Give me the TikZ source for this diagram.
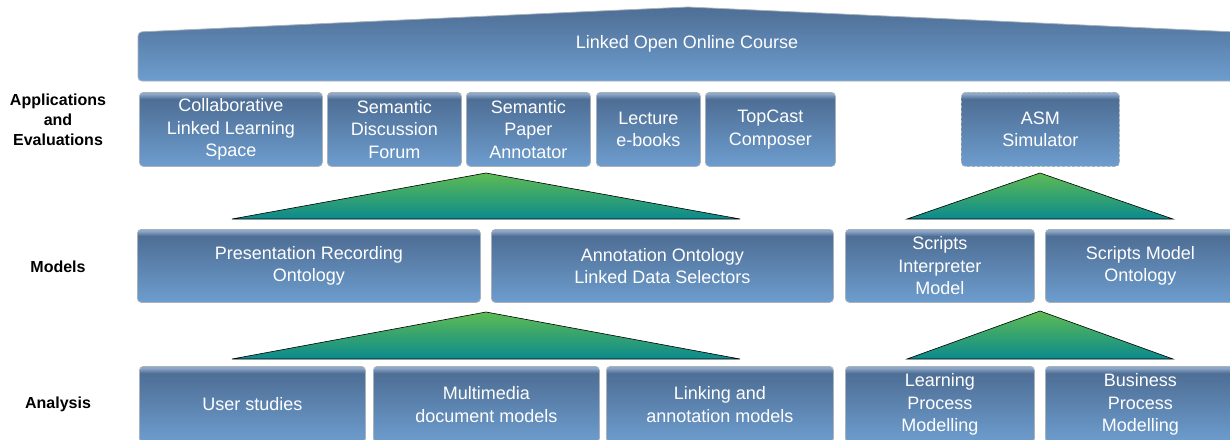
\documentclass[tikz,border=0pt]{standalone}
\usepackage{fontspec}
\setmainfont{Liberation Sans}
\definecolor{bxtop}{HTML}{4E6E95}
\definecolor{bxbot}{HTML}{6D9DCE}
\definecolor{bxhi}{HTML}{8EA8C8}
\definecolor{bxline}{HTML}{A9B1BA}
\definecolor{trtop}{HTML}{5EBB53}
\definecolor{trbot}{HTML}{0B8A8E}
% box fill: light at the bottom, dark near the top, thin light rim on top
\pgfdeclareverticalshading{boxshade}{100bp}{color(0bp)=(bxbot); color(25bp)=(bxbot); color(70.5bp)=(bxtop); color(74bp)=(bxhi); color(100bp)=(bxhi)}
\tikzset{
  box/.style={anchor=north west, rounded corners=4pt, draw=bxline, line width=0.8pt,
    shading=boxshade, text=white, align=center, inner sep=0pt,
    font=\fontsize{18}{22.5}\selectfont},
  dbox/.style={box, dash pattern=on 3pt off 2pt},
  tri/.style={draw=black, line width=0.6pt, top color=trtop, bottom color=trbot},
  lbl/.style={align=center, font=\bfseries\fontsize{16}{20}\selectfont}
}
\begin{document}
\begin{tikzpicture}[x=1pt,y=-1pt]
\useasboundingbox (0,0) rectangle (1230,439);
\clip (0,0) rectangle (1230,439);

% course banner
\path[draw=bxline, line width=0.8pt, top color=bxtop, bottom color=bxbot]
  (688,7) -- (1236,32) -- (1236,81) -- (300,81) [rounded corners=4pt] -- (138,81) -- (138,32) [sharp corners] -- cycle;
\node[text=white, font=\fontsize{18}{22.5}\selectfont] (course) at (687,44) {Linked Open Online Course};

% layer labels
\node[lbl] (lapp) at (58,120) {Applications\\and\\Evaluations};
\node[lbl] (lmod) at (58,267) {Models};
\node[lbl] (lana) at (58,404) {Analysis};

% applications and evaluations
\node[box, minimum width=183pt, minimum height=74pt] (coll) at (139,92) {Collaborative\\Linked Learning\\Space};
\node[box, minimum width=134pt, minimum height=74pt] (sdf) at (327,92) {Semantic\\Discussion\\Forum};
\node[box, minimum width=124pt, minimum height=74pt] (spa) at (466,92) {Semantic\\Paper\\Annotator};
\node[box, minimum width=104pt, minimum height=74pt] (leb) at (596,92) {Lecture\\e-books};
\node[box, minimum width=130pt, minimum height=74pt] (tcc) at (705,92) {TopCast\\Composer};
\node[dbox, minimum width=158pt, minimum height=74pt] (asm) at (961,92) {ASM\\Simulator};

% triangles between applications and models
\draw[tri] (232,219) -- (486,173) -- (740,219) -- cycle;
\draw[tri] (907,219) -- (1040,173) -- (1173,219) -- cycle;

% models
\node[box, minimum width=343pt, minimum height=73pt] (pro) at (137,229) {Presentation Recording\\Ontology};
\node[box, minimum width=342pt, minimum height=73pt] (ado) at (491,229) {Annotation Ontology\\Linked Data Selectors};
\node[box, minimum width=189pt, minimum height=73pt] (sim) at (845,229) {Scripts\\Interpreter\\Model};
\node[box, minimum width=190pt, minimum height=73pt] (smo) at (1045,229) {Scripts Model\\Ontology};

% triangles between models and analysis
\draw[tri] (232,359) -- (486,312) -- (740,359) -- cycle;
\draw[tri] (907,359) -- (1040,311) -- (1173,359) -- cycle;

% analysis
\node[box, minimum width=226pt, minimum height=76pt] (usr) at (139,366) {User studies};
\node[box, minimum width=226pt, minimum height=76pt] (mdm) at (373,366) {Multimedia\\document models};
\node[box, minimum width=227pt, minimum height=76pt] (lam) at (606,366) {Linking and\\annotation models};
\node[box, minimum width=189pt, minimum height=76pt] (lpm) at (845,366) {Learning\\Process\\Modelling};
\node[box, minimum width=190pt, minimum height=76pt] (bpm) at (1045,366) {Business\\Process\\Modelling};
\end{tikzpicture}
\end{document}
